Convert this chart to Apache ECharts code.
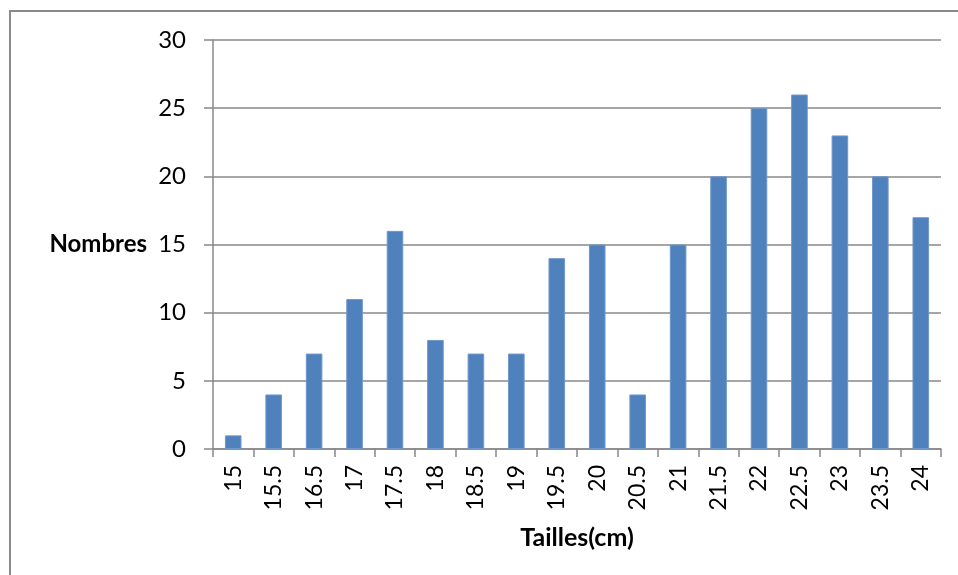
<!DOCTYPE html>
<html>
<head>
<meta charset="utf-8">
<script src="https://cdn.jsdelivr.net/npm/echarts@6/dist/echarts.min.js"></script>
<style>
  html, body { margin: 0; padding: 0; background: #ffffff; }
  #chart { width: 958px; height: 575px; }
</style>
</head>
<body>
<div id="chart"></div>
<script>
// Shoe sizes (cm) and the number of people for each size
const tailles = ['15', '15.5', '16.5', '17', '17.5', '18', '18.5', '19', '19.5', '20',
                 '20.5', '21', '21.5', '22', '22.5', '23', '23.5', '24'];
const nombres = [1, 4, 7, 11, 16, 8, 7, 7, 14, 15, 4, 15, 20, 25, 26, 23, 20, 17];
const yTicks = { min: 0, max: 30, step: 5 };

const axisGray = '#888888';
const font = 'Lato, "Open Sans", sans-serif';

const chart = echarts.init(document.getElementById('chart'), null, { renderer: 'canvas' });

chart.setOption({
  animation: false,
  backgroundColor: '#ffffff',
  graphic: [{
    type: 'rect',
    shape: { x: 10, y: 11, width: 1200, height: 1200 },
    style: { fill: 'none', stroke: '#8a8a8a', lineWidth: 2 },
    silent: true
  }],
  grid: { left: 213, right: 17, top: 40, bottom: 126, containLabel: false },
  xAxis: {
    type: 'category',
    data: tailles,
    boundaryGap: true,
    name: 'Tailles(cm)',
    nameLocation: 'middle',
    nameGap: 76,
    nameTextStyle: { fontFamily: font, fontWeight: 'bold', fontSize: 25, color: '#000' },
    axisLine: { show: true, lineStyle: { color: axisGray, width: 1.5 } },
    axisTick: { show: true, alignWithLabel: false, length: 8, lineStyle: { color: axisGray, width: 1.5 } },
    axisLabel: { rotate: 90, margin: 16, fontFamily: font, fontSize: 23, color: '#000', interval: 0 },
    splitLine: { show: false }
  },
  yAxis: {
    type: 'value',
    min: yTicks.min,
    max: yTicks.max,
    interval: yTicks.step,
    name: 'Nombres',
    nameLocation: 'middle',
    nameRotate: 0,
    nameGap: 66,
    nameTextStyle: { fontFamily: font, fontWeight: 'bold', fontSize: 24, color: '#000', align: 'right' },
    axisLine: { show: true, lineStyle: { color: axisGray, width: 1.5 } },
    axisTick: { show: true, length: 9, lineStyle: { color: axisGray, width: 1.5 } },
    axisLabel: { margin: 27, fontFamily: font, fontSize: 24, color: '#000' },
    splitLine: { show: true, lineStyle: { color: axisGray, width: 1.5 } }
  },
  series: [{
    type: 'bar',
    data: nombres,
    barWidth: '41%',
    itemStyle: { color: '#4F81BD', borderColor: '#6f97cb', borderWidth: 1 }
  }]
});
</script>
</body>
</html>
